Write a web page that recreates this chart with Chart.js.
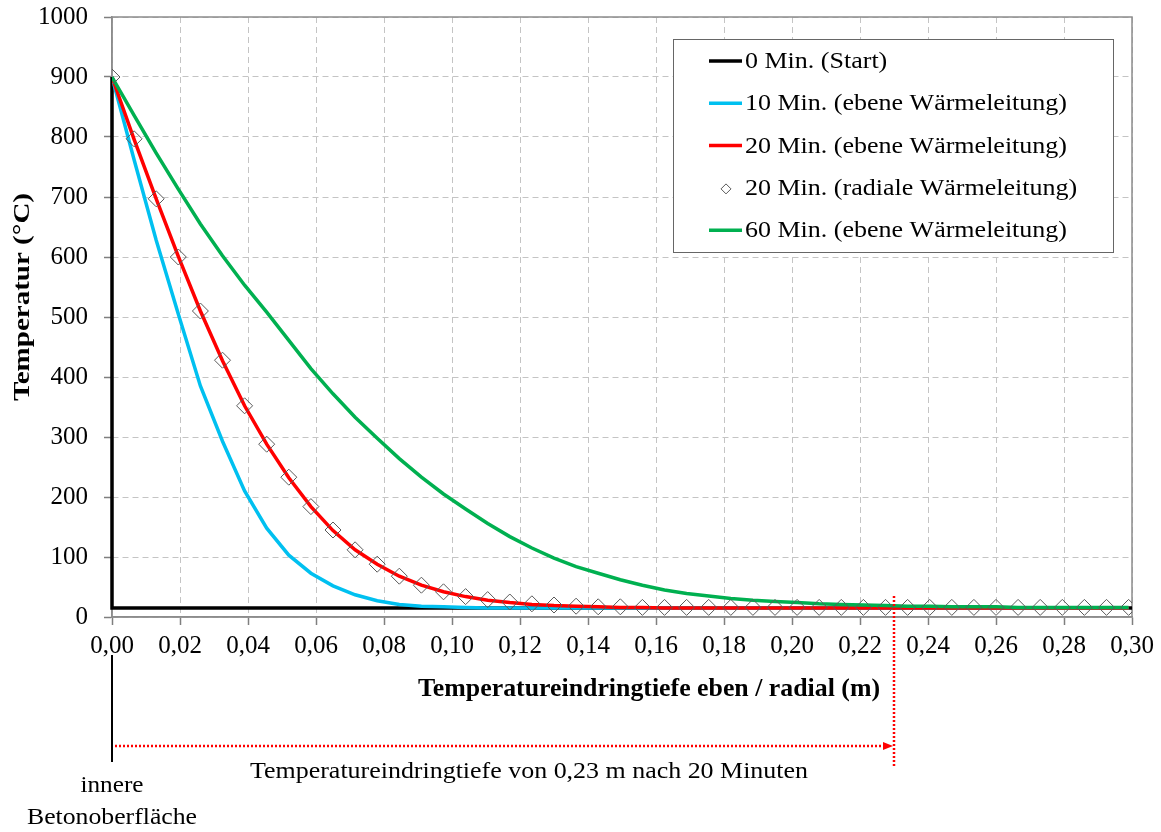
<!DOCTYPE html>
<html>
<head>
<meta charset="utf-8">
<script src="https://cdn.jsdelivr.net/npm/chart.js@4.4.1/dist/chart.umd.min.js"></script>
<style>
  html, body { margin: 0; padding: 0; background: #fff; }
  #wrap { position: relative; width: 1161px; height: 832px; }
</style>
</head>
<body>
<div id="wrap"><canvas id="tempChart" width="1161" height="832"></canvas></div>
<script>
// depth below the inner concrete surface (m)
const depth = [0, 0.0065, 0.013, 0.0195, 0.026, 0.0325, 0.039, 0.0455, 0.052, 0.0585,
  0.065, 0.0715, 0.078, 0.0845, 0.091, 0.0975, 0.104, 0.1105, 0.117, 0.1235,
  0.13, 0.1365, 0.143, 0.1495, 0.156, 0.1625, 0.169, 0.1755, 0.182, 0.1885,
  0.195, 0.2015, 0.208, 0.2145, 0.221, 0.2275, 0.234, 0.2405, 0.247, 0.2535,
  0.26, 0.2665, 0.273, 0.2795, 0.286, 0.2925, 0.299];

// 0 min: step profile at the surface
const startDepth = [0, 0, 0.3];
const startTemp = [900, 15, 15];

const temp10 = [900, 762, 628, 505, 385, 293, 210, 148, 103, 73,
  52, 37, 27, 21, 18, 17, 16, 15, 15, 15,
  15, 15, 15, 15, 15, 15, 15, 15, 15, 15,
  15, 15, 15, 15, 15, 15, 15, 15, 15, 15,
  15, 15, 15, 15, 15, 15, 15];

const temp20 = [900, 796, 697, 601, 510, 427, 352, 288, 232, 184,
  144, 112, 88, 68, 53, 42, 34, 28, 24, 21,
  19, 18, 17, 16, 16, 15, 15, 15, 15, 15,
  15, 15, 15, 15, 15, 15, 15, 15, 15, 15,
  15, 15, 15, 15, 15, 15, 15];

const temp20Radial = [900, 797, 697, 600, 510, 428, 352, 288, 233, 184,
  145, 112, 88, 68, 53, 42, 34, 29, 25, 22,
  20, 18, 17, 17, 16, 16, 16, 16, 16, 16,
  16, 16, 16, 16, 16, 16, 16, 16, 16, 16,
  16, 16, 16, 16, 16, 16, 16];

const temp60 = [900, 836, 773, 713, 655, 602, 553, 508, 461, 414,
  372, 333, 298, 264, 233, 205, 180, 156, 134, 115,
  98, 84, 73, 62, 53, 45, 39, 35, 31, 28,
  26, 24, 22, 21, 20, 19, 18, 18, 17, 17,
  17, 16, 16, 16, 16, 16, 16];

const penetrationDepth = 0.23;

const serif = "'Liberation Serif', 'Times New Roman', serif";

function pts(xs, ys) {
  return xs.map((x, i) => ({ x: x, y: ys[i] }));
}

// draw a centred text squeezed/stretched to a given width
function fitText(ctx, text, cx, cy, width, font, rotate) {
  ctx.save();
  ctx.font = font;
  ctx.textAlign = 'center';
  ctx.textBaseline = 'middle';
  ctx.fillStyle = '#000';
  const w = ctx.measureText(text).width;
  ctx.translate(cx, cy);
  if (rotate) ctx.rotate(-Math.PI / 2);
  ctx.scale(width / w, 1);
  ctx.fillText(text, 0, 0);
  ctx.restore();
}

//plot frame (top and right edges are solid in the original)
const frame = {
  id: 'frame',
  beforeDatasetsDraw(chart) {
    const { ctx, chartArea: a } = chart;
    ctx.save();
    ctx.strokeStyle = '#8c8c8c';
    ctx.lineWidth = 1.5;
    ctx.strokeRect(a.left, a.top, a.right - a.left, a.bottom - a.top);
    ctx.restore();
  }
};

//legend box, axis titles and the annotation under the x axis
const extras = {
  id: 'extras',
  afterDraw(chart) {
    const { ctx } = chart;
    const xs = chart.scales.x;
    const x0 = xs.getPixelForValue(0);
    const xd = xs.getPixelForValue(penetrationDepth);

    // legend
    ctx.save();
    ctx.fillStyle = '#fff';
    ctx.fillRect(673, 39, 440, 213);
    ctx.strokeStyle = '#666';
    ctx.lineWidth = 1;
    ctx.strokeRect(673.5, 39.5, 440, 213);
    ctx.font = '23px ' + serif;
    const sx = 322 / ctx.measureText('10 Min. (ebene Wärmeleitung)').width;
    chart.data.datasets.forEach((ds, i) => {
      const y = 62 + i * 42.3;
      if (ds.showLine) {
        ctx.strokeStyle = ds.borderColor;
        ctx.lineWidth = 3.5;
        ctx.beginPath();
        ctx.moveTo(709, y - 1);
        ctx.lineTo(742, y - 1);
        ctx.stroke();
      } else {
        ctx.strokeStyle = ds.pointBorderColor;
        ctx.lineWidth = 1;
        ctx.beginPath();
        ctx.moveTo(726, y - 5);
        ctx.lineTo(731, y);
        ctx.lineTo(726, y + 5);
        ctx.lineTo(721, y);
        ctx.closePath();
        ctx.stroke();
      }
      ctx.save();
      ctx.translate(745, y);
      ctx.scale(sx, 1);
      ctx.fillStyle = '#000';
      ctx.textAlign = 'left';
      ctx.textBaseline = 'middle';
      ctx.fillText(ds.label, 0, 0);
      ctx.restore();
    });
    ctx.restore();

    // axis titles
    fitText(ctx, 'Temperatur (°C)', 23, 297, 208, 'bold 24px ' + serif, true);
    fitText(ctx, 'Temperatureindringtiefe eben / radial (m)', 649, 690, 462, 'bold 25px ' + serif, false);

    // inner surface marker
    ctx.save();
    ctx.strokeStyle = '#000';
    ctx.lineWidth = 2;
    ctx.beginPath();
    ctx.moveTo(x0, 655);
    ctx.lineTo(x0, 762);
    ctx.stroke();

    // penetration depth after 20 minutes
    ctx.strokeStyle = '#ff0000';
    ctx.fillStyle = '#ff0000';
    ctx.lineWidth = 2.5;
    ctx.setLineDash([2, 2]);
    ctx.beginPath();
    ctx.moveTo(xd, 596);
    ctx.lineTo(xd, 766);
    ctx.stroke();
    ctx.beginPath();
    ctx.moveTo(x0 + 3, 746);
    ctx.lineTo(xd - 9, 746);
    ctx.stroke();
    ctx.setLineDash([]);
    ctx.beginPath();
    ctx.moveTo(xd - 1, 746);
    ctx.lineTo(xd - 11, 742);
    ctx.lineTo(xd - 11, 750);
    ctx.closePath();
    ctx.fill();
    ctx.restore();

    fitText(ctx, 'Temperatureindringtiefe von 0,23 m nach 20 Minuten', 529, 772, 558, '24px ' + serif, false);
    fitText(ctx, 'innere', 112, 786, 63, '24px ' + serif, false);
    fitText(ctx, 'Betonoberfläche', 112, 818, 170, '24px ' + serif, false);
  }
};

new Chart(document.getElementById('tempChart'), {
  type: 'scatter',
  data: {
    datasets: [{
      label: '0 Min. (Start)',
      data: pts(startDepth, startTemp),
      showLine: true,
      borderColor: '#000000',
      borderWidth: 3.5,
      pointRadius: 0,
      clip: false,
      order: 5
    }, {
      label: '10 Min. (ebene Wärmeleitung)',
      data: pts(depth, temp10),
      showLine: true,
      borderColor: '#00c0f0',
      borderWidth: 3.5,
      pointRadius: 0,
      order: 4
    }, {
      label: '20 Min. (ebene Wärmeleitung)',
      data: pts(depth, temp20),
      showLine: true,
      borderColor: '#ff0000',
      borderWidth: 3.5,
      pointRadius: 0,
      order: 3
    }, {
      label: '20 Min. (radiale Wärmeleitung)',
      data: pts(depth, temp20Radial),
      showLine: false,
      pointStyle: 'rectRot',
      pointRadius: 8,
      pointBackgroundColor: 'rgba(0,0,0,0)',
      pointBorderColor: '#5a5a5a',
      pointBorderWidth: 1,
      order: 1
    }, {
      label: '60 Min. (ebene Wärmeleitung)',
      data: pts(depth, temp60),
      showLine: true,
      borderColor: '#00b050',
      borderWidth: 3.5,
      pointRadius: 0,
      order: 2
    }]
  },
  options: {
    responsive: false,
    animation: false,
    layout: {
      padding: { top: 17, right: 29, left: 0, bottom: 0 }
    },
    scales: {
      x: {
        type: 'linear',
        min: 0,
        max: 0.3,
        ticks: {
          stepSize: 0.02,
          padding: 6,
          color: '#000',
          font: { family: serif, size: 25 },
          callback: v => v.toFixed(2).replace('.', ',')
        },
        grid: {
          color: '#c4c4c4',
          tickColor: '#7f7f7f',
          tickLength: 8,
          tickWidth: 1.5
        },
        border: { color: '#8c8c8c', width: 1.5, dash: [6, 4] },
        afterFit: s => { s.height = 215; }
      },
      y: {
        min: 0,
        max: 1000,
        ticks: {
          stepSize: 100,
          padding: 16,
          color: '#000',
          font: { family: serif, size: 25 },
          callback: v => String(v)
        },
        grid: {
          color: '#c4c4c4',
          tickColor: '#7f7f7f',
          tickLength: 8,
          tickWidth: 1.5
        },
        border: { color: '#8c8c8c', width: 1.5, dash: [6, 4] },
        afterFit: s => { s.width = 112; s.paddingTop = 12; s.paddingBottom = 12; }
      }
    },
    plugins: {
      legend: { display: false },
      tooltip: { enabled: false }
    }
  },
  plugins: [frame, extras]
});
</script>
</body>
</html>
